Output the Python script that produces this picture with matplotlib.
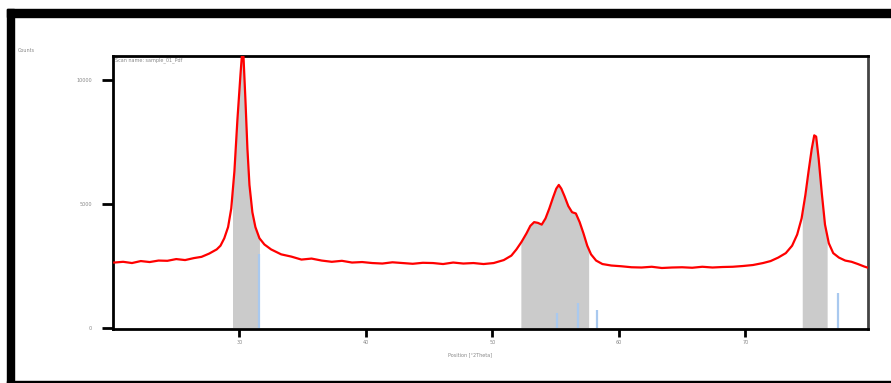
import numpy as np
import matplotlib
matplotlib.use("Agg")
import matplotlib.pyplot as plt
from matplotlib.patches import Rectangle

# measured pattern (position in deg 2theta, counts)
pos = [20.1, 20.8, 21.5, 22.2, 22.9, 23.6, 24.3, 25.0, 25.7, 26.4, 27.0, 27.6, 28.2,
       28.5, 28.8, 29.1, 29.35, 29.6, 29.84, 30.08, 30.24, 30.32, 30.47, 30.63, 30.79,
       31.02, 31.26, 31.58, 31.97, 32.5, 33.3, 34.1, 34.9, 35.7, 36.5, 37.3, 38.1,
       38.9, 39.7, 40.5, 41.3, 42.1, 42.9, 43.7, 44.5, 45.3, 46.1, 46.9, 47.7, 48.5,
       49.3, 50.1, 50.9, 51.5, 51.9, 52.3, 52.7, 53.0, 53.3, 53.6, 53.9, 54.2, 54.5,
       54.8, 55.05, 55.25, 55.45, 55.7, 56.0, 56.3, 56.6, 56.9, 57.2, 57.5, 57.8,
       58.2, 58.7, 59.4, 60.2, 61.0, 61.8, 62.6, 63.4, 64.2, 65.0, 65.8, 66.6, 67.4,
       68.2, 69.0, 69.8, 70.6, 71.4, 72.0, 72.6, 73.2, 73.7, 74.1, 74.45, 74.75,
       75.0, 75.25, 75.45, 75.6, 75.8, 76.05, 76.3, 76.6, 76.95, 77.4, 77.9, 78.4,
       78.9, 79.4, 79.7]
counts = [2620, 2650, 2600, 2680, 2640, 2700, 2690, 2760, 2720, 2800, 2850, 2980, 3150,
          3300, 3600, 4050, 4800, 6300, 8400, 10200, 11300, 10900, 9200, 7200, 5750,
          4650, 4050, 3600, 3350, 3150, 2950, 2860, 2740, 2780, 2700, 2650, 2690,
          2620, 2640, 2600, 2580, 2630, 2600, 2570, 2610, 2600, 2560, 2620, 2580, 2600,
          2560, 2600, 2720, 2900, 3150, 3450, 3800, 4100, 4250, 4220, 4150, 4400, 4800,
          5250, 5600, 5750, 5600, 5300, 4900, 4650, 4600, 4250, 3800, 3300, 2950,
          2700, 2560, 2500, 2470, 2430, 2420, 2450, 2400, 2420, 2430, 2410, 2450, 2420,
          2440, 2450, 2480, 2520, 2600, 2680, 2820, 3000, 3300, 3750, 4400, 5350,
          6300, 7200, 7750, 7700, 6800, 5400, 4150, 3400, 3000, 2820, 2700, 2650,
          2560, 2460, 2410]

# highlighted peak ranges (start, end)
peak_ranges = [(29.45, 31.58), (52.25, 57.61), (74.50, 76.47)]

# reference lines (position, counts)
ref_pos = [31.58, 55.09, 56.75, 58.24, 77.34]
ref_counts = [2980, 600, 1000, 720, 1400]

x_ticks = [30, 40, 50, 60, 70]
y_ticks = [0, 5000, 10000]
sample_name = "Scan name: sample_01_Pdf"

pos = np.array(pos)
counts = np.array(counts)

fig = plt.figure(figsize=(8.91, 3.83), dpi=100)
ax = fig.add_axes([113 / 891, 1 - 329 / 383, (868 - 113) / 891, (329 - 56) / 383])

for lo, hi in peak_ranges:
    xs = np.concatenate([[lo], pos[(pos > lo) & (pos < hi)], [hi]])
    ys = np.interp(xs, pos, counts)
    ax.fill_between(xs, 0, ys, color="#cbcbcb", lw=0, zorder=1)

ax.vlines(ref_pos, 0, ref_counts, color="#a9c9ef", lw=1.6, zorder=2)
ax.plot(pos, counts, color="#ff0000", lw=1.6, zorder=3)

ax.set_xlim(20.0, 79.7)
ax.set_ylim(-60, 10950)
ax.set_xticks(x_ticks)
ax.set_yticks(y_ticks)
ax.set_xticklabels([str(t) for t in x_ticks], fontsize=3.5, color="#888888")
ax.set_yticklabels([str(t) for t in y_ticks], fontsize=3.5, color="#888888")
ax.tick_params(axis="y", length=8, width=2, pad=7)
ax.tick_params(axis="x", length=6, width=2, pad=2)
for s in ax.spines.values():
    s.set_linewidth(2)
    s.set_color("black")
ax.spines["right"].set_color("#444444")

ax.text(0.003, 0.995, sample_name, transform=ax.transAxes, fontsize=3.5,
        color="#888888", ha="left", va="top")
fig.text(470 / 891, 1 - 355 / 383, "Position [\u00b02Theta]", fontsize=3.5,
         color="#888888", ha="center", va="center")
fig.text(18 / 891, 1 - 50 / 383, "Counts", fontsize=3.5, color="#888888",
         ha="left", va="center")

# outer frame
fig.patches.append(Rectangle((7 / 891, 1 - 383 / 383), 7 / 891, (383 - 9) / 383,
                             transform=fig.transFigure, color="black", zorder=5))
fig.patches.append(Rectangle((7 / 891, 1 - 17 / 383), 884 / 891, 8 / 383,
                             transform=fig.transFigure, color="black", zorder=5))
fig.patches.append(Rectangle((7 / 891, 1 - 382.5 / 383), 884 / 891, 1.2 / 383,
                             transform=fig.transFigure, color="black", zorder=5))

fig.savefig("out.png", dpi=100)
